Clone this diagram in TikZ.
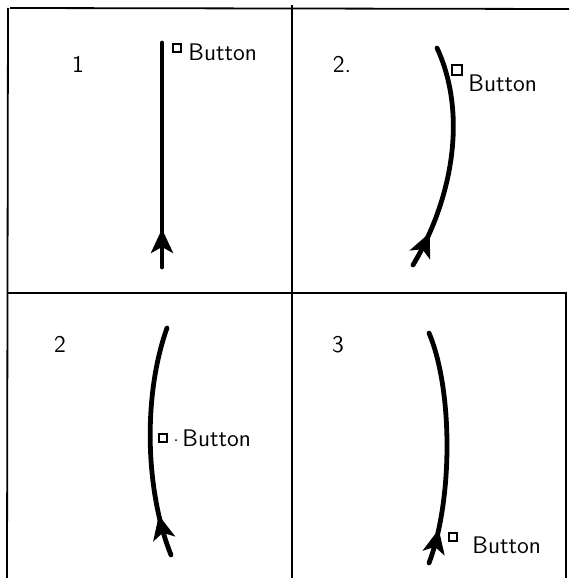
\documentclass[tikz,border=0pt]{standalone}
\usepackage{tikz}
\usetikzlibrary{arrows.meta, decorations.markings}

\begin{document}
\begin{tikzpicture}[
  x=0.5pt, y=-0.5pt,
  frame/.style={line width=0.9pt},
  path/.style={line width=2.4pt, line cap=round},
  tipat/.style={postaction={decorate, decoration={markings,
                mark=at position #1 with {\arrow{Stealth[length=12pt, width=11pt, inset=3pt]}}}}},
  btnbox/.style={draw, line width=0.6pt, minimum size=4pt, inner sep=0pt},
  btntext/.style={anchor=base west, inner sep=0pt, font=\fontsize{12}{14}\sffamily},
  panelno/.style={anchor=base, inner sep=0pt, font=\fontsize{12}{14}\sffamily},
]
\useasboundingbox (0,0) rectangle (569,578);

% frame
\draw[frame] (10,8) -- (569,9);
\draw[frame] (8,8) -- (7,578);
\draw[frame] (292,5) -- (292,578);
\draw[frame] (7,293) -- (567,293);
\draw[frame] (566,293) -- (566,578);

% panel 1
\node[panelno] (no1) at (78,72) {1};
\coordinate (s1) at (162,267);
\coordinate (e1) at (162,43);
\draw[path, tipat=0.17] (s1) -- (e1);
\node[btnbox] (box1) at (177,48) {};
\node[btntext] (btn1) at (188,60) {Button};

% panel 2 (top right)
\node[panelno] (no2a) at (342,72) {2.};
\coordinate (s2) at (413,265);
\coordinate (e2) at (437,48);
\draw[path, tipat=0.16] (s2) .. controls (452,200) and (468,115) .. (e2);
\node[btnbox, line width=1.4pt, minimum size=5pt] (box2) at (457,70) {};
\node[btntext] (btn2) at (468,91) {Button};

% panel 2 (bottom left)
\node[panelno] (no2b) at (60,352) {2};
\coordinate (s3) at (171,555);
\coordinate (e3) at (167,328);
\draw[path, tipat=0.18] (s3) .. controls (145,490) and (143,395) .. (e3);
\node[btnbox] (box3) at (163,438) {};
\fill (176,440) circle (0.5pt);
\node[btntext] (btn3) at (182,446) {Button};

% panel 3
\node[panelno] (no3) at (338,352) {3};
\coordinate (s4) at (429,563);
\coordinate (e4) at (429,333);
\draw[path, tipat=0.15] (s4) .. controls (453,500) and (453,390) .. (e4);
\node[btnbox] (box4) at (453,537) {};
\node[btntext] (btn4) at (472,553) {Button};
\end{tikzpicture}
\end{document}
